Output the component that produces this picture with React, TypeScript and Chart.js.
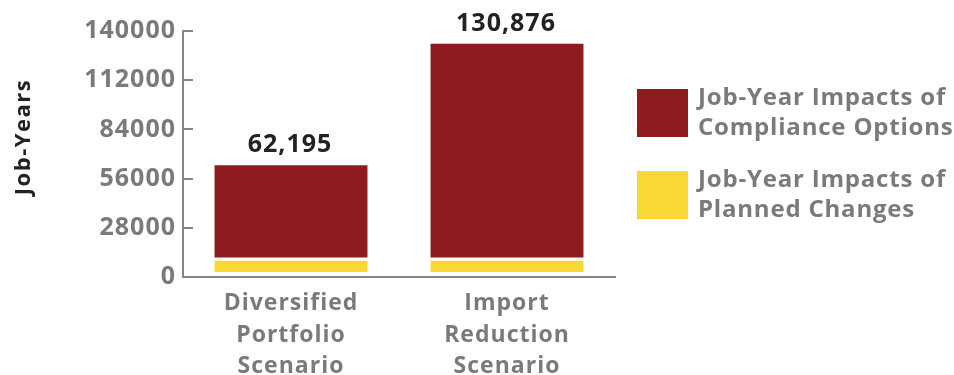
import React, { useEffect, useRef } from "react";
import { Chart, registerables } from "chart.js";

Chart.register(...registerables);

const categories = [
  ["Diversified", "Portfolio", "Scenario"],
  ["Import", "Reduction", "Scenario"],
];
const complianceRange: [number, number][] = [
  [11130, 63600],
  [11130, 132700],
];
const plannedRange: [number, number][] = [
  [2840, 9260],
  [2840, 9260],
];
const totalLabels = ["62,195", "130,876"];
const yTicks = [0, 28000, 56000, 84000, 112000, 140000];
const seriesNames = ["Job-Year Impacts of Compliance Options", "Job-Year Impacts of Planned Changes"];
const legendLines = [
  ["Job-Year Impacts of", "Compliance Options"],
  ["Job-Year Impacts of", "Planned Changes"],
];
const yTitle = "Job-Years";

const RED = "#8f1b1f";
const YELLOW = "#f9d833";
const GRAY = "#7a7a7a";
const AXIS = "#858585";
const DARK = "#222222";
const FONT = "'Open Sans', Lato, sans-serif";

const spacing = {
  id: "spacing",
  beforeDraw(chart: any) {
    chart.ctx.letterSpacing = "1px";
  },
};

const overlay = {
  id: "overlay",
  afterDraw(chart: any) {
    const ctx = chart.ctx;
    const yScale = chart.scales.y;
    const area = chart.chartArea;
    ctx.save();
    // inward tick marks
    ctx.strokeStyle = AXIS;
    ctx.lineWidth = 2;
    yTicks.forEach((v) => {
      const y = Math.round(yScale.getPixelForValue(v));
      ctx.beginPath();
      ctx.moveTo(area.left, y);
      ctx.lineTo(area.left + 10, y);
      ctx.stroke();
    });
    // total labels
    const meta = chart.getDatasetMeta(0);
    ctx.letterSpacing = "1px";
    ctx.fillStyle = DARK;
    ctx.font = `700 25px ${FONT}`;
    ctx.textAlign = "center";
    ctx.textBaseline = "alphabetic";
    meta.data.forEach((bar: any, i: number) => {
      ctx.fillText(totalLabels[i], bar.x - 1, bar.y - 13);
    });
    // legend
    const colors = [RED, YELLOW];
    const boxTops = [89, 171];
    ctx.textAlign = "left";
    ctx.letterSpacing = "0.8px";
    ctx.font = `700 24px ${FONT}`;
    legendLines.forEach((lines, i) => {
      ctx.fillStyle = colors[i];
      ctx.fillRect(637, boxTops[i], 51, 48);
      ctx.fillStyle = GRAY;
      lines.forEach((t, j) => {
        ctx.fillText(t, 698, boxTops[i] + 16 + j * 30);
      });
    });
    // y title
    ctx.translate(30, 137);
    ctx.rotate(-Math.PI / 2);
    ctx.fillStyle = DARK;
    ctx.letterSpacing = "1.5px";
    ctx.font = `700 22px ${FONT}`;
    ctx.textAlign = "center";
    ctx.fillText(yTitle, 0, 0);
    ctx.restore();
  },
};

export default function App() {
  const ref = useRef<HTMLCanvasElement | null>(null);
  useEffect(() => {
    if (!ref.current) return;
    const chart = new Chart(ref.current, {
      type: "bar",
      data: {
        labels: categories as any,
        datasets: [
          {
            label: seriesNames[0],
            data: complianceRange as any,
            backgroundColor: RED,
            borderWidth: 0,
          },
          {
            label: seriesNames[1],
            data: plannedRange as any,
            backgroundColor: YELLOW,
            borderWidth: 0,
          },
        ],
      },
      options: {
        animation: false,
        responsive: false,
        maintainAspectRatio: false,
        layout: { padding: { left: 0, right: 339, top: 31, bottom: 0 } },
        datasets: { bar: { grouped: false, barPercentage: 0.708, categoryPercentage: 1 } } as any,
        plugins: { legend: { display: false }, tooltip: { enabled: false }, title: { display: false } },
        scales: {
          x: {
            grid: { display: false },
            border: { display: true, color: AXIS, width: 2 },
            ticks: {
              color: GRAY,
              font: { family: FONT, size: 23, weight: "bold", lineHeight: 1.39 } as any,
              padding: 2,
              maxRotation: 0,
              autoSkip: false,
            },
            afterFit: (s: any) => {
              s.height = 98;
            },
          },
          y: {
            min: 0,
            max: 140000,
            grid: { display: false, drawTicks: false },
            border: { display: true, color: AXIS, width: 2 },
            afterBuildTicks: (s: any) => {
              s.ticks = yTicks.map((v) => ({ value: v }));
            },
            ticks: {
              color: GRAY,
              font: { family: FONT, size: 25, weight: "bold" } as any,
              padding: 7,
              callback: (v: any) => String(v),
            },
            afterFit: (s: any) => {
              s.width = 183;
            },
          },
        },
      },
      plugins: [spacing, overlay],
    });
    return () => chart.destroy();
  }, []);
  return (
    <div style={{ position: "absolute", left: 0, top: 0, width: 954, height: 375, background: "#fff" }}>
      <canvas ref={ref} width={954} height={375} style={{ width: 954, height: 375 }} />
    </div>
  );
}
